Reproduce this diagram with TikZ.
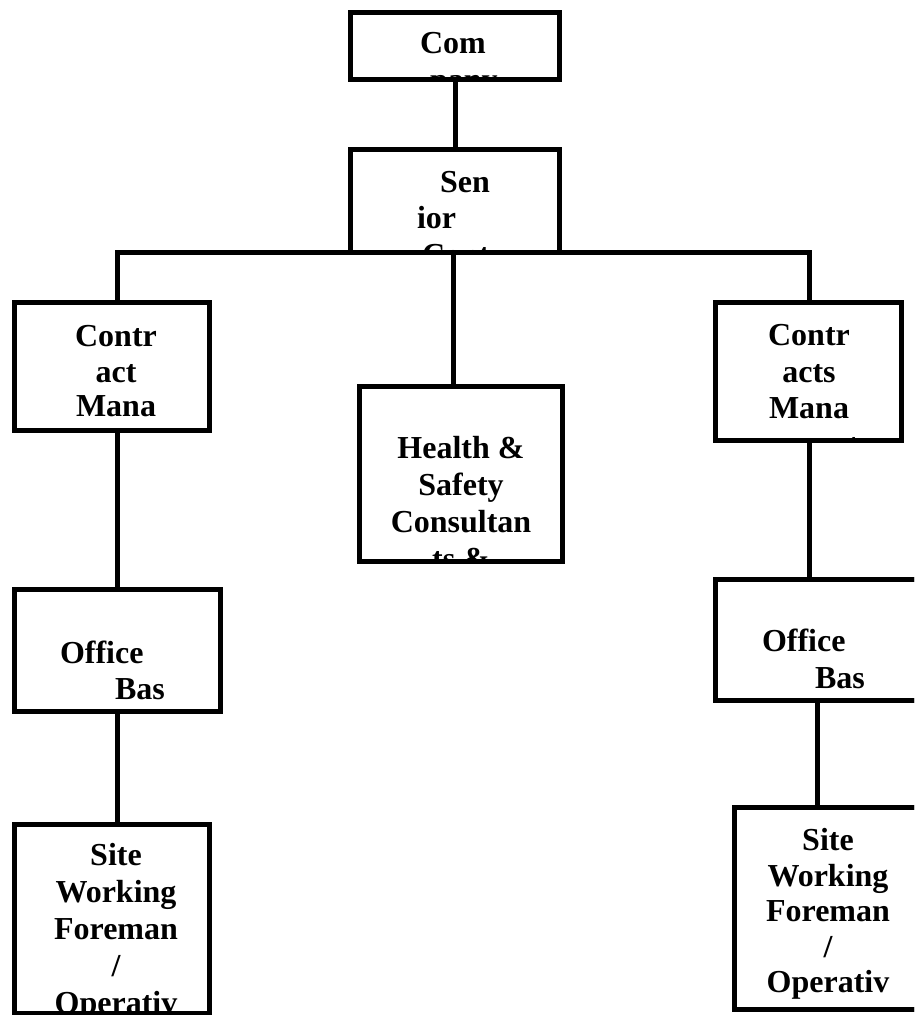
\documentclass[tikz,border=0pt]{standalone}
\usepackage{fontspec}
\setmainfont{Liberation Serif}
\begin{document}
\begin{tikzpicture}[x=1pt,y=-1pt,
  box/.style={draw=black,line width=5pt,rectangle,inner sep=0pt,outer sep=0pt,fill=white},
  link/.style={draw=black,line width=5pt},
  txt/.style={inner sep=0pt,outer sep=0pt,font=\fontsize{32}{36}\selectfont\bfseries}]
\clip (0,0) rectangle (914,1015);
\fill[white] (0,0) rectangle (914,1015);
% boxes: centre and size (centre-line)
\node[box,minimum width=209pt,minimum height=67pt] (company) at (455,46) {};
\node[box,minimum width=209pt,minimum height=102.5pt] (senior) at (455,200.75) {};
\node[box,minimum width=195pt,minimum height=128pt] (cmL) at (112,366.5) {};
\node[box,minimum width=186pt,minimum height=138pt] (cmR) at (808.5,371.5) {};
\node[box,minimum width=203pt,minimum height=175pt] (hs) at (461,474) {};
\node[box,minimum width=206pt,minimum height=122pt] (obL) at (117.5,650.5) {};
\node[box,minimum width=214.5pt,minimum height=121pt] (obR) at (822.75,640) {};
\node[box,minimum width=195pt,minimum height=188.5pt] (swL) at (112,918.75) {};
\node[box,minimum width=195.5pt,minimum height=202pt] (swR) at (832.25,908.5) {};
% texts, clipped to their boxes
\begin{scope}
\clip (company.south west) rectangle (company.north east);
\node[txt,anchor=base west] (t1) at (420,53) {Com};
\node[txt,anchor=base west] (t2) at (430,90) {pany};
\end{scope}
\begin{scope}
\clip (senior.south west) rectangle (senior.north east);
\node[txt,anchor=base west] (t3) at (440,192) {Sen};
\node[txt,anchor=base west] (t4) at (417,228) {ior};
\node[txt,anchor=base west] (t5) at (422,265) {Cont};
\end{scope}
\begin{scope}
\clip (cmL.south west) rectangle (cmL.north east);
\node[txt,anchor=base] (t6) at (116,346) {Contr};
\node[txt,anchor=base] (t7) at (116,382) {act};
\node[txt,anchor=base] (t8) at (116,416) {Mana};
\end{scope}
\begin{scope}
\clip (cmR.south west) rectangle (cmR.north east);
\node[txt,anchor=base] (t9) at (809,345) {Contr};
\node[txt,anchor=base] (t10) at (809,382) {acts};
\node[txt,anchor=base] (t11) at (809,418) {Mana};
\node[txt,anchor=base] (t12) at (809,455) {gement};
\end{scope}
\begin{scope}
\clip (hs.south west) rectangle (hs.north east);
\node[txt,anchor=base] (t13) at (461,458) {Health \&};
\node[txt,anchor=base] (t14) at (461,495) {Safety};
\node[txt,anchor=base] (t15) at (461,532) {Consultan};
\node[txt,anchor=base] (t16) at (461,569) {ts \&};
\end{scope}
\begin{scope}
\clip (obL.south west) rectangle (obL.north east);
\node[txt,anchor=base west] (t17) at (60,663) {Office};
\node[txt,anchor=base west] (t18) at (115,699) {Bas};
\end{scope}
\begin{scope}
\clip (obR.south west) rectangle (obR.north east);
\node[txt,anchor=base west] (t19) at (762,651) {Office};
\node[txt,anchor=base west] (t20) at (815,688) {Bas};
\end{scope}
\begin{scope}
\clip (swL.south west) rectangle (swL.north east);
\node[txt,anchor=base] (t21) at (116,865) {Site};
\node[txt,anchor=base] (t22) at (116,902) {Working};
\node[txt,anchor=base] (t23) at (116,939) {Foreman};
\node[txt,anchor=base] (t24) at (116,976) {/};
\node[txt,anchor=base] (t25) at (116,1013) {Operativ};
\end{scope}
\begin{scope}
\clip (swR.south west) rectangle (swR.north east);
\node[txt,anchor=base] (t26) at (828,850) {Site};
\node[txt,anchor=base] (t27) at (828,886) {Working};
\node[txt,anchor=base] (t28) at (828,921) {Foreman};
\node[txt,anchor=base] (t29) at (828,957) {/};
\node[txt,anchor=base] (t30) at (828,992) {Operativ};
\end{scope}
% redraw borders over clipped text
\foreach \n in {company,senior,cmL,cmR,hs,obL,obR,swL,swR}
  \draw[line width=5pt] (\n.south west) rectangle (\n.north east);
% connectors
\coordinate (barL) at (117,252);
\coordinate (barR) at (809,252);
\draw[link] (company.south) -- (senior.north);
\draw[link,line join=miter] (cmL.north -| barL) -- (barL) -- (barR) -- (cmR.north -| barR);
\draw[link] (hs.north -| 453,0) -- (453,252);
\draw[link] (cmL.south -| barL) -- (obL.north -| barL);
\draw[link] (obL.south -| barL) -- (swL.north -| barL);
\draw[link] (cmR.south -| barR) -- (obR.north -| barR);
\draw[link] (obR.south -| 817,0) -- (swR.north -| 817,0);
\end{tikzpicture}
\end{document}
